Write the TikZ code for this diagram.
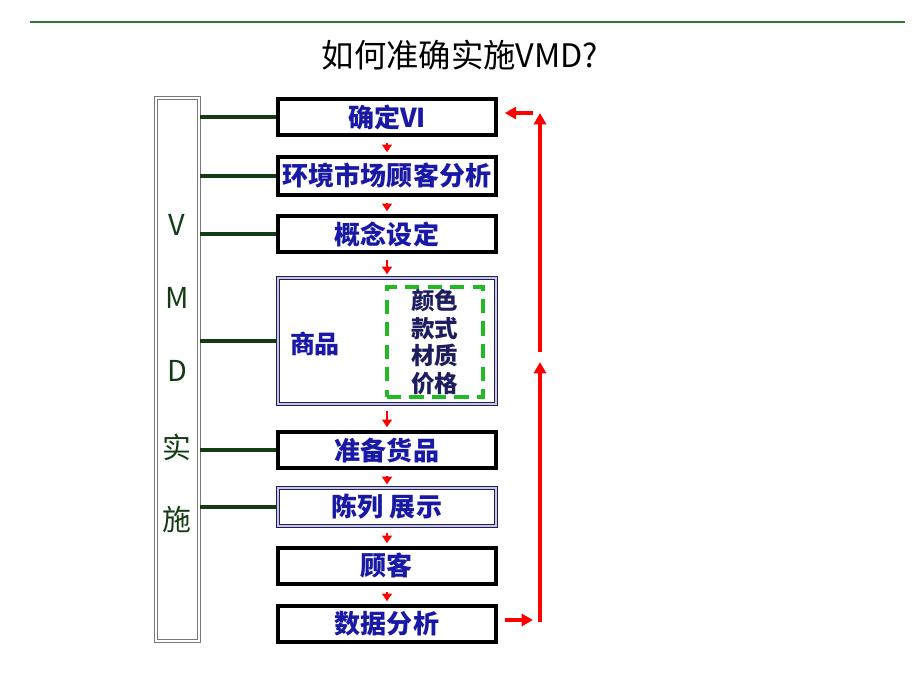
\documentclass[tikz,border=0pt]{standalone}
\usepackage{fontspec}
\setmainfont{Noto Sans CJK SC}
\usetikzlibrary{positioning,arrows.meta}

\definecolor{rulegreen}{RGB}{45,120,45}
\definecolor{vmdgreen}{RGB}{20,60,20}
\definecolor{labelblue}{RGB}{25,25,165}
\definecolor{navy}{RGB}{30,30,95}
\definecolor{dashgreen}{RGB}{35,185,35}
\definecolor{framegray}{RGB}{120,120,120}

\tikzset{
	stepbox/.style={draw=black, line width=1pt, minimum width=2.18cm, minimum height=0.36cm,
		inner sep=0pt, text=labelblue, font=\fontsize{7.4}{8}\selectfont\bfseries},
	framebox/.style={stepbox, draw=navy, line width=0.35pt, double=navy!25, double distance=0.5pt},
	vmdletter/.style={text=vmdgreen, font=\fontsize{8.2}{9}\selectfont},
	branch/.style={vmdgreen, line width=0.9pt},
	nextstep/.style={red, line width=0.6pt, shorten <=0.06cm, shorten >=0.03cm,
		-{Triangle[length=2.2pt,width=2.8pt]}},
	feedback/.style={red, line width=0.9pt, -{Triangle[length=3.2pt,width=3.4pt]}}
}

\begin{document}
\begin{tikzpicture}[x=0.01cm, y=-0.01cm]

\useasboundingbox (0,0) rectangle (920,690);

%% Titel
\draw[rulegreen, line width=0.6pt] (30,22) -- (905,22);
\node (title) at (460,55) {\fontsize{9.2}{10}\selectfont 如何准确实施VMD?};

%% Linke Spalte
\begin{scope}
	\node[draw=framegray, line width=0.35pt, double=white, double distance=0.6pt,
		minimum width=0.43cm, minimum height=5.43cm] (vmd) at (177.5,369.5) {};
	\node[vmdletter] (v1) at (177,225) {V};
	\node[vmdletter] (v2) at (177,298) {M};
	\node[vmdletter] (v3) at (177,371) {D};
	\node[vmdletter] (v4) at (177,447) {实};
	\node[vmdletter] (v5) at (177,520) {施};
\end{scope}

%% Ablauf
\begin{scope}
	\node[stepbox] (b1) at (387,117) {确定VI};
	\node[stepbox, minimum height=0.38cm] (b2) at (387,176) {环境市场顾客分析};
	\node[stepbox] (b3) at (387,234) {概念设定};
	\node[framebox, minimum height=1.26cm] (b4) at (387,341) {};
	\node[stepbox] (b5) at (387,450) {准备货品};
	\node[framebox, minimum height=0.38cm] (b6) at (387,507) {陈列 展示};
	\node[stepbox] (b7) at (387,566) {顾客};
	\node[stepbox] (b8) at (387,624) {数据分析};

	%%商品
	\node[text=labelblue, font=\fontsize{7.1}{8}\selectfont\bfseries] (goods) at (315,344) {商品};
	\node[draw=dashgreen, line width=0.9pt, dash pattern=on 4pt off 2.4pt,
		minimum width=0.96cm, minimum height=1.1cm] (attr) at (435,342) {};
	\node[text=navy, align=center, font=\fontsize{6.7}{7.9}\selectfont\bfseries] (attrtext) at (435,342)
		{颜色\\款式\\材质\\价格};
\end{scope}

%% Verbindungen
\foreach \b in {b1,b2,b3,b4,b5,b6}
	\draw[branch] (vmd.east |- \b.west) -- (\b.west);

\draw[nextstep] (b1) -- (b2);
\draw[nextstep] (b2) -- (b3);
\draw[nextstep] (b3) -- (b4);
\draw[nextstep] (b4) -- (b5);
\draw[nextstep] (b5) -- (b6);
\draw[nextstep] (b6) -- (b7);
\draw[nextstep] (b7) -- (b8);

%% Rueckfuehrung
\coordinate (fbBottom) at (540,620);
\coordinate (fbLow) at (540,362);
\coordinate (fbHigh) at (540,352);
\coordinate (fbTop) at (540,113);
\draw[feedback] ([shift={(7,-4)}]b8.east) -- ([shift={(-7,0)}]fbBottom);
\draw[feedback, shorten <=-0.45pt] (fbBottom) -- (fbLow);
\draw[feedback] (fbHigh) -- (fbTop);
\draw[feedback] ([shift={(-7,0)}]fbTop) -- ([shift={(7,-4)}]b1.east);

\end{tikzpicture}
\end{document}
